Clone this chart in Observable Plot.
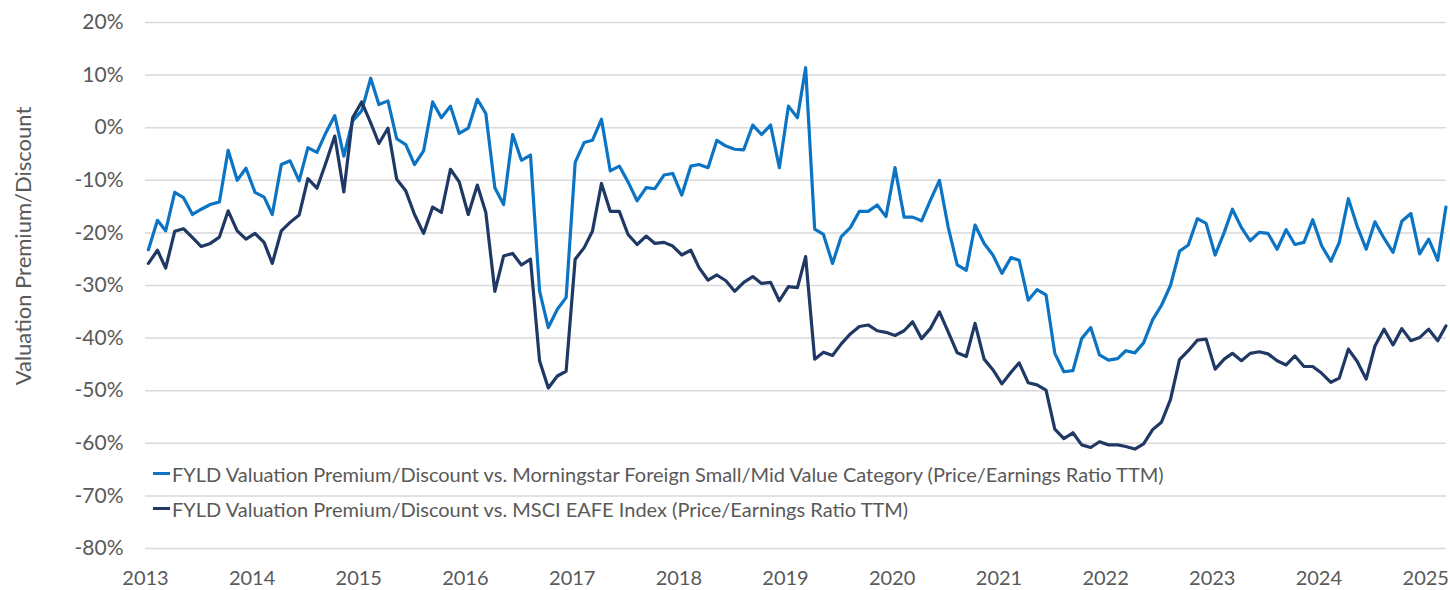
<!DOCTYPE html>
<html><head><meta charset="utf-8">
<script src="https://cdn.jsdelivr.net/npm/d3@7"></script>
<script src="https://cdn.jsdelivr.net/npm/@observablehq/plot@0.6"></script>
<style>
body{margin:0;background:#fff;}
#wrap{position:relative;width:1450px;height:590px;font-family:Lato,"Open Sans",sans-serif;color:#595959;}
#ytitle{position:absolute;left:22px;top:246px;transform:translate(-50%,-50%) rotate(-90deg);white-space:nowrap;font-size:22px;}
#legend{position:absolute;left:153px;top:456px;font-size:20px;}
.item{display:flex;align-items:center;height:35px;white-space:nowrap;}
.sw{width:17px;height:3px;margin-right:2px;}
</style></head><body><div id="wrap"></div>
<script>
const seriesNames = [
  "FYLD Valuation Premium/Discount vs. Morningstar Foreign Small/Mid Value Category (Price/Earnings Ratio TTM)",
  "FYLD Valuation Premium/Discount vs. MSCI EAFE Index (Price/Earnings Ratio TTM)"
];
const seriesColors = ["#0B74C4", "#1F3864"];
const firstMonth = "2013-01-01";
const monthCount = 147; // Jan 2013 .. Mar 2025
const yTicks = [20, 10, 0, -10, -20, -30, -40, -50, -60, -70, -80];
const xTickYears = [2013, 2014, 2015, 2016, 2017, 2018, 2019, 2020, 2021, 2022, 2023, 2024, 2025];
const yTitle = "Valuation Premium/Discount";

const morningstar = [
  -23.2,-17.6,-19.6,-12.3,-13.3,-16.5,-15.5,-14.6,-14.1,-4.3,-10,-7.7,
  -12.3,-13.2,-16.5,-7,-6.3,-10.1,-3.8,-4.7,-0.9,2.3,-5.4,1.3,
  3.2,9.4,4.4,5.1,-2.1,-3.2,-7.0,-4.4,4.9,1.9,4.1,-1.1,
  -0.1,5.4,2.7,-11.4,-14.6,-1.3,-6.2,-5.2,-31,-38,-34.5,-32.3,
  -6.6,-2.8,-2.4,1.6,-8.2,-7.3,-10.3,-13.9,-11.4,-11.6,-9.0,-8.7,
  -12.8,-7.3,-7,-7.6,-2.4,-3.5,-4.1,-4.2,0.5,-1.3,0.5,-7.6,
  4.1,1.9,11.4,-19.3,-20.3,-25.8,-20.7,-19,-15.9,-15.9,-14.7,-16.9,
  -7.6,-17,-17,-17.7,-13.8,-10,-18.9,-26.1,-27.1,-18.5,-22,-24.2,
  -27.7,-24.7,-25.2,-32.8,-30.8,-31.8,-42.9,-46.4,-46.2,-40.1,-38,-43.2,
  -44.2,-43.9,-42.4,-42.8,-40.9,-36.5,-33.8,-30,-23.5,-22.3,-17.3,-18.2,
  -24.2,-19.9,-15.5,-19,-21.5,-19.9,-20.1,-23.1,-19.4,-22.2,-21.8,-17.5,
  -22.5,-25.4,-21.8,-13.5,-18.7,-23.1,-17.9,-21,-23.7,-17.8,-16.3,-24,
  -21.2,-25.2,-15.1
];
const eafe = [
  -25.8,-23.3,-26.7,-19.7,-19.2,-20.9,-22.6,-22,-20.8,-15.8,-19.6,-21.2,
  -20.1,-21.8,-25.8,-19.6,-18,-16.6,-9.7,-11.5,-6.6,-1.6,-12.2,1.9,
  4.9,0.9,-3,-0.1,-9.8,-12,-16.5,-20.1,-15.1,-16.1,-7.9,-10.3,
  -16.5,-10.9,-16.1,-31.1,-24.4,-23.9,-26.1,-25,-44.3,-49.5,-47.2,-46.3,
  -25,-22.8,-19.7,-10.6,-15.9,-15.9,-20.3,-22.2,-20.6,-22,-21.8,-22.5,
  -24.2,-23.3,-26.6,-29,-28,-29.1,-31.1,-29.4,-28.3,-29.6,-29.4,-32.9,
  -30.2,-30.4,-24.5,-44,-42.7,-43.3,-41.1,-39.2,-37.8,-37.5,-38.6,-38.9,
  -39.5,-38.6,-36.9,-40.1,-38.2,-35,-38.8,-42.8,-43.5,-37.2,-44,-46,
  -48.7,-46.5,-44.7,-48.5,-48.9,-49.9,-57.3,-59.1,-58,-60.3,-60.8,-59.7,
  -60.3,-60.3,-60.6,-61.1,-60.1,-57.4,-56,-51.7,-44.1,-42.4,-40.4,-40.2,
  -45.9,-44,-42.9,-44.3,-42.9,-42.6,-43,-44.3,-45.1,-43.4,-45.4,-45.4,
  -46.7,-48.4,-47.6,-42.1,-44.4,-47.8,-41.5,-38.3,-41.3,-38.2,-40.5,-39.9,
  -38.3,-40.5,-37.7
];

const months = d3.utcMonth.range(new Date(firstMonth), d3.utcMonth.offset(new Date(firstMonth), monthCount))
  .map(d => d3.utcDay.offset(d, 10));
const rows = [];
[morningstar, eafe].forEach((arr, s) => arr.forEach((v, i) => rows.push({date: months[i], value: v, series: seriesNames[s]})));

const chart = Plot.plot({
  width: 1450, height: 590,
  marginLeft: 145, marginRight: 4, marginTop: 22, marginBottom: 42,
  style: {fontFamily: "Lato, 'Open Sans', sans-serif", fontSize: "20px", color: "#595959", background: "#fff", overflow: "visible"},
  x: {type: "utc", domain: [new Date("2013-01-01"), new Date("2025-03-13")],
      ticks: xTickYears.map(y => new Date(Date.UTC(y, 0, 1))), tickFormat: d3.utcFormat("%Y"),
      tickSize: 0, tickPadding: 22, label: null},
  y: {domain: [-80, 20], ticks: yTicks, tickFormat: d => d + "%", tickSize: 0, tickPadding: 22, label: null},
  color: {domain: seriesNames, range: seriesColors},
  marks: [
    Plot.gridY(yTicks, {stroke: "#D9D9D9", strokeOpacity: 1, strokeWidth: 1.5}),
    Plot.axisY(yTicks, {tickFormat: d => d + "%", tickSize: 0, tickPadding: 22, fontSize: 21, label: null}),
    Plot.lineY(rows, {x: "date", y: "value", z: "series", stroke: "series", strokeWidth: 3.2, strokeLinejoin: "round"})
  ]
});

const wrap = document.getElementById("wrap");
wrap.appendChild(chart);
const yt = document.createElement("div");
yt.id = "ytitle"; yt.textContent = yTitle;
wrap.appendChild(yt);
const lg = document.createElement("div");
lg.id = "legend";
seriesNames.forEach((n, i) => {
  const it = document.createElement("div"); it.className = "item";
  const sw = document.createElement("span"); sw.className = "sw"; sw.style.background = seriesColors[i];
  const tx = document.createElement("span"); tx.textContent = n;
  it.appendChild(sw); it.appendChild(tx); lg.appendChild(it);
});
wrap.appendChild(lg);
</script>
</body></html>
